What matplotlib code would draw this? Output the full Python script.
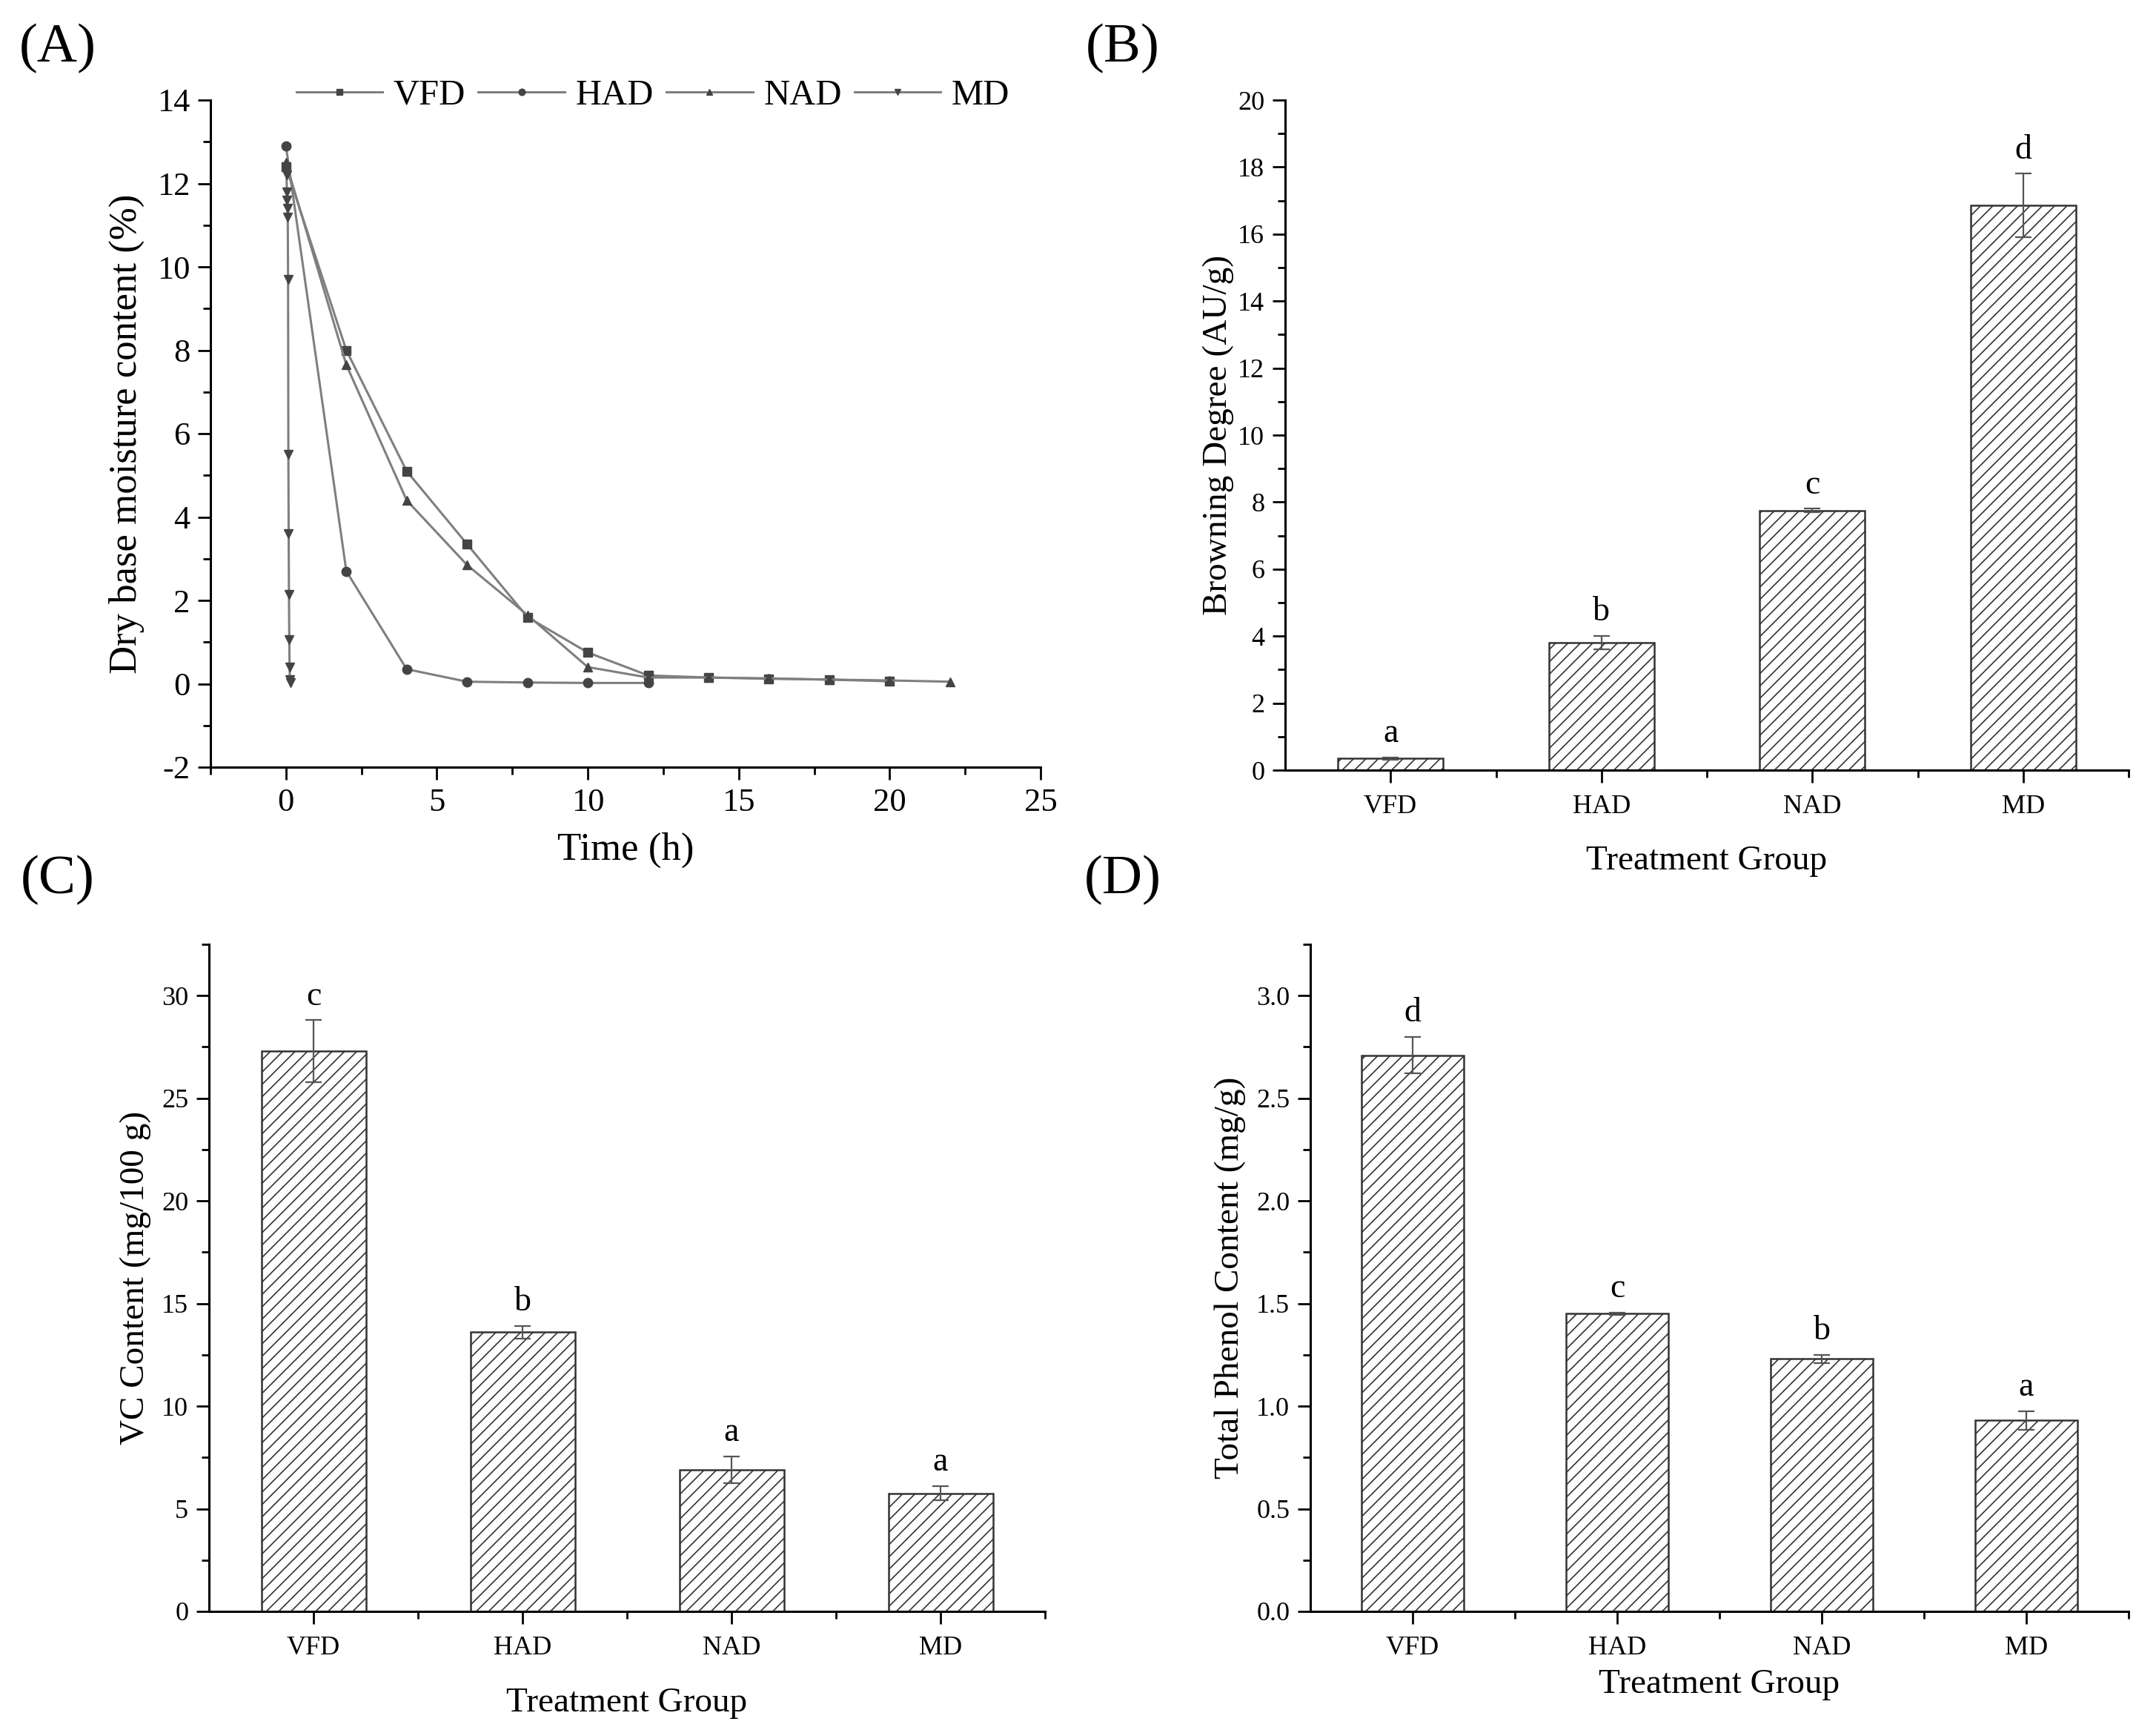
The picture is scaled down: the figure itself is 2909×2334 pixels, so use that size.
import matplotlib
matplotlib.use("Agg")
import matplotlib.pyplot as plt
from matplotlib.ticker import MultipleLocator, FormatStrFormatter

plt.rcParams['font.family'] = ['Liberation Serif', 'DejaVu Serif']
plt.rcParams['hatch.linewidth'] = 1.2
plt.rcParams['axes.unicode_minus'] = False

# ---- data: panel A (drying curves) ----
vfd_t = [0, 2, 4, 6, 8, 10, 12, 14, 16, 18, 20]
vfd_m = [12.4, 8.0, 5.1, 3.35, 1.6, 0.75, 0.2, 0.15, 0.12, 0.1, 0.06]
had_t = [0, 2, 4, 6, 8, 10, 12]
had_m = [12.9, 2.7, 0.35, 0.05, 0.03, 0.02, 0.02]
nad_t = [0, 2, 4, 6, 8, 10, 12, 14, 16, 18, 20, 22]
nad_m = [12.5, 7.65, 4.4, 2.85, 1.65, 0.4, 0.15, 0.15, 0.13, 0.1, 0.08, 0.05]
md_t = [0, 0.01, 0.02, 0.03, 0.04, 0.05, 0.06, 0.07, 0.08, 0.09, 0.10, 0.11, 0.12, 0.13, 0.14]
md_m = [12.4, 12.3, 12.2, 11.8, 11.6, 11.4, 11.2, 9.7, 5.5, 3.6, 2.15, 1.05, 0.4, 0.1, 0.02]

# ---- data: bar panels ----
groups = ['VFD', 'HAD', 'NAD', 'MD']
browning = [0.35, 3.8, 7.75, 16.85]
browning_err = [0.03, 0.2, 0.05, 0.95]
browning_sig = ['a', 'b', 'c', 'd']
vc = [27.3, 13.6, 6.9, 5.75]
vc_err = [1.5, 0.3, 0.65, 0.35]
vc_sig = ['c', 'b', 'a', 'a']
phenol = [2.71, 1.45, 1.23, 0.93]
phenol_err = [0.09, 0.005, 0.02, 0.045]
phenol_sig = ['d', 'c', 'b', 'a']

W, H = 2909, 2334
fig = plt.figure(figsize=(W / 100, H / 100), dpi=100)


def box(l, r, t, b):
    return [l / W, 1 - b / H, (r - l) / W, (b - t) / H]


def style_axes(ax, tick_size):
    for s in ['top', 'right']:
        ax.spines[s].set_visible(False)
    for s in ['left', 'bottom']:
        ax.spines[s].set_linewidth(2.2)
    ax.tick_params(which='major', direction='out', length=12, width=2, labelsize=tick_size, pad=8)
    ax.tick_params(which='minor', direction='out', length=7, width=2)


# ---- (A) ----
axA = fig.add_axes(box(284, 1404, 135, 1035))
line_c = '#7f7f7f'
mk_c = '#444444'
series = [(vfd_t, vfd_m, 's', 'VFD'), (had_t, had_m, 'o', 'HAD'),
          (nad_t, nad_m, '^', 'NAD'), (md_t, md_m, 'v', 'MD')]
for t, m, mk, lab in series:
    axA.plot(t, m, color=line_c, lw=2.2, marker=mk, ms=9, mfc=mk_c, mec=mk_c, label=lab)
axA.set_xlim(-2.5, 25)
axA.set_ylim(-2, 14)
axA.xaxis.set_major_locator(MultipleLocator(5))
axA.xaxis.set_minor_locator(MultipleLocator(2.5))
axA.yaxis.set_major_locator(MultipleLocator(2))
axA.yaxis.set_minor_locator(MultipleLocator(1))
style_axes(axA, 32)
axA.set_xlabel('Time (h)', fontsize=38, labelpad=14)
axA.set_ylabel('Dry base moisture content (%)', fontsize=38, labelpad=12)
leg = axA.legend(loc='upper center', bbox_to_anchor=(0.533, 1.08), ncol=4, frameon=False,
                 fontsize=35, handlelength=2.4, columnspacing=0.35, handletextpad=0.3,
                 markerscale=0.7)


def bar_panel(rect, vals, errs, sig, ymax, major, minor, ylabel, xlab_pad, ypad):
    ax = fig.add_axes(rect)
    x = list(range(len(groups)))
    ax.bar(x, vals, width=0.5, color='white', edgecolor='#333333', linewidth=1.8,
           hatch='//', zorder=2)
    ax.errorbar(x, vals, yerr=errs, fmt='none', ecolor='#555555', elinewidth=1.6,
                capsize=8, capthick=1.6, zorder=3)
    for xi, v, e, s in zip(x, vals, errs, sig):
        ax.text(xi, v + e + ymax * 0.012, s, ha='center', va='bottom', fontsize=33)
    ax.set_xlim(-0.5, 3.5)
    ax.set_ylim(0, ymax)
    ax.set_xticks(x)
    ax.set_xticklabels(groups)
    ax.set_xticks([0.5, 1.5, 2.5, 3.5], minor=True)
    ax.yaxis.set_major_locator(MultipleLocator(major))
    ax.yaxis.set_minor_locator(MultipleLocator(minor))
    style_axes(ax, 26)
    ax.tick_params(axis='x', which='major', pad=12)
    ax.set_xlabel('Treatment Group', fontsize=34, labelpad=xlab_pad)
    ax.set_ylabel(ylabel, fontsize=34, labelpad=ypad)
    return ax


axB = bar_panel(box(1734, 2872, 135, 1039), browning, browning_err, browning_sig,
                20, 2, 1, 'Browning Degree (AU/g)', 25, 4)
axC = bar_panel(box(282, 1410, 1274, 2174), vc, vc_err, vc_sig,
                32.5, 5, 2.5, 'VC Content (mg/100 g)', 26, 10)
axD = bar_panel(box(1768, 2872, 1274, 2174), phenol, phenol_err, phenol_sig,
                3.25, 0.5, 0.25, 'Total Phenol Content (mg/g)', 8, 10)
axD.yaxis.set_major_formatter(FormatStrFormatter('%.1f'))

for lab, (px, py) in zip(['(A)', '(B)', '(C)', '(D)'],
                         [(78, 65), (1515, 65), (78, 1187), (1515, 1187)]):
    fig.text(px / W, 1 - py / H, lab, fontsize=54, ha='center', va='center')

fig.savefig('out.png', dpi=100)
